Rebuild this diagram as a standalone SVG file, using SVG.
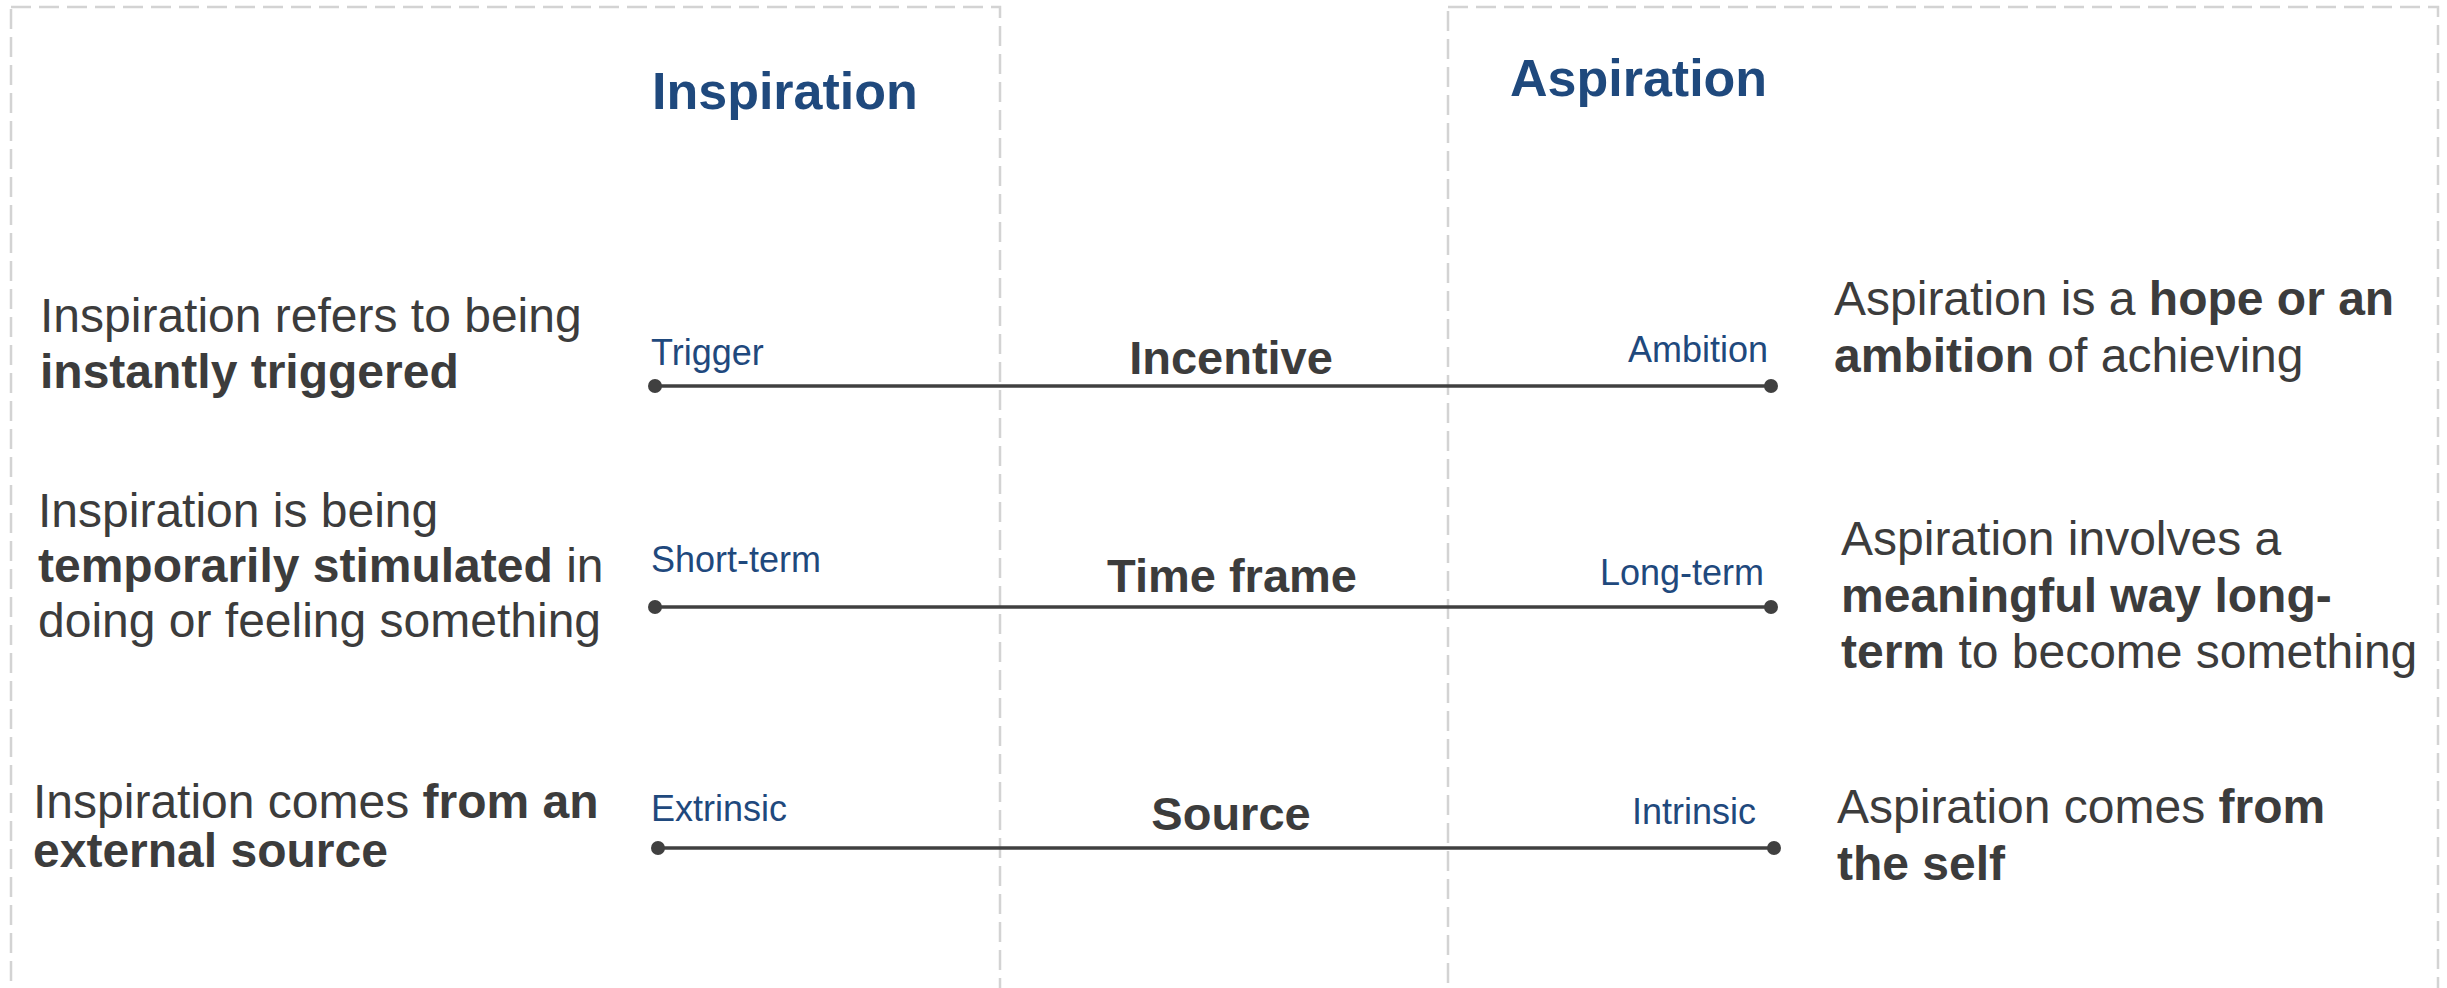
<svg xmlns="http://www.w3.org/2000/svg" width="2447" height="988" viewBox="0 0 2447 988">
<style>
.box{fill:none;stroke:#d3d3d3;stroke-width:2.5;stroke-dasharray:20 8}
.title{font-family:"Liberation Sans",Arial,sans-serif;font-weight:bold;font-size:52px;fill:#1F497D}
.body{font-family:"Liberation Sans",Arial,sans-serif;font-size:48px;fill:#3c3c3c}
.b{font-weight:bold}
.lbl{font-family:"Liberation Sans",Arial,sans-serif;font-size:36px;fill:#1F497D}
.mid{font-family:"Liberation Sans",Arial,sans-serif;font-weight:bold;font-size:47px;fill:#3c3c3c;text-anchor:middle}
.conn{stroke:#404040;stroke-width:3.5;fill:none;marker-start:url(#dot);marker-end:url(#dot)}
</style>
<defs>
<marker id="dot" markerUnits="userSpaceOnUse" markerWidth="16" markerHeight="16" refX="8" refY="8" viewBox="0 0 16 16">
<circle cx="8" cy="8" r="7" fill="#404040"/>
</marker>
</defs>
<rect width="2447" height="988" fill="#ffffff"/>
<g id="box-inspiration"><rect class="box" x="11" y="7" width="989" height="1010"/></g>
<g id="box-aspiration"><rect class="box" x="1448" y="7" width="990" height="1010"/></g>
<g id="title-inspiration"><text class="title" x="652" y="109">Inspiration</text></g>
<g id="title-aspiration"><text class="title" x="1510" y="96">Aspiration</text></g>
<g id="connectors">
<line class="conn" x1="655" y1="386" x2="1771" y2="386"/>
<line class="conn" x1="655" y1="607" x2="1771" y2="607"/>
<line class="conn" x1="658" y1="848" x2="1774" y2="848"/>
</g>
<g id="row-incentive">
<text class="body" x="40" y="332">Inspiration refers to being</text>
<text class="body b" x="40" y="388">instantly triggered</text>
<text class="lbl" x="651" y="365">Trigger</text>
<text class="mid" x="1231" y="374">Incentive</text>
<text class="lbl" x="1768" y="362" text-anchor="end">Ambition</text>
<text class="body" x="1834" y="315">Aspiration is a <tspan class="b">hope or an</tspan></text>
<text class="body" x="1834" y="372"><tspan class="b">ambition</tspan> of achieving</text>
</g>
<g id="row-timeframe">
<text class="body" x="38" y="527">Inspiration is being</text>
<text class="body" x="38" y="582"><tspan class="b">temporarily stimulated</tspan> in</text>
<text class="body" x="38" y="637">doing or feeling something</text>
<text class="lbl" x="651" y="572">Short-term</text>
<text class="mid" x="1232" y="592">Time frame</text>
<text class="lbl" x="1764" y="585" text-anchor="end">Long-term</text>
<text class="body" x="1841" y="555">Aspiration involves a</text>
<text class="body b" x="1841" y="612">meaningful way long-</text>
<text class="body" x="1841" y="668"><tspan class="b">term</tspan> to become something</text>
</g>
<g id="row-source">
<text class="body" x="33" y="818">Inspiration comes <tspan class="b">from an</tspan></text>
<text class="body b" x="33" y="867">external source</text>
<text class="lbl" x="651" y="821">Extrinsic</text>
<text class="mid" x="1231" y="830">Source</text>
<text class="lbl" x="1756" y="824" text-anchor="end">Intrinsic</text>
<text class="body" x="1837" y="823">Aspiration comes <tspan class="b">from</tspan></text>
<text class="body b" x="1837" y="880">the self</text>
</g>
</svg>
